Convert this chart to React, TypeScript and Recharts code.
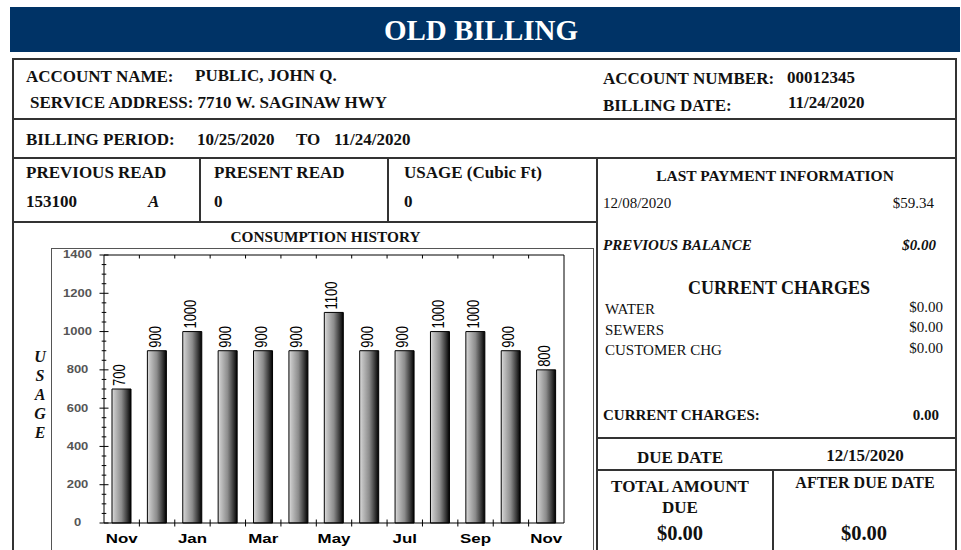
import React from 'react';
import { BarChart, Bar, XAxis, YAxis, LabelList } from 'recharts';

// consumption history, oldest first
const MONTHS = ['Nov', 'Dec', 'Jan', 'Feb', 'Mar', 'Apr', 'May', 'Jun', 'Jul', 'Aug', 'Sep', 'Oct', 'Nov'];
const USAGE = [700, 900, 1000, 900, 900, 900, 1100, 900, 900, 1000, 1000, 900, 800];
const USAGE_TICKS = [
  0, 50, 100, 150, 200, 250, 300, 350, 400, 450, 500, 550, 600, 650, 700,
  750, 800, 850, 900, 950, 1000, 1050, 1100, 1150, 1200, 1250, 1300, 1350, 1400,
];

const data = MONTHS.map((month, i) => ({ month, usage: USAGE[i] }));

const SERIF = '"Liberation Serif", "Times New Roman", serif';
const SANS = '"Liberation Sans", Arial, sans-serif';
const LINE = '#333';

const CHART_W = 541;
const CHART_H = 302;
const LEFT_W = 52;
const RIGHT_W = 29;
const PLOT_W = CHART_W - LEFT_W - RIGHT_W;
const BAND = PLOT_W / MONTHS.length;

const HEAD = 17;

type TProps = {
  x: number;
  y: number;
  size: number;
  bold?: boolean;
  italic?: boolean;
  align?: 'left' | 'center' | 'right';
  color?: string;
  children: React.ReactNode;
};

// y is the middle of the capitals
const T = ({ x, y, size, bold = true, italic = false, align = 'left', color = '#111', children }: TProps) => {
  const w = 400;
  const left = align === 'left' ? x : align === 'center' ? x - w / 2 : x - w;
  return (
    <div
      style={{
        position: 'absolute',
        left,
        top: y - size / 2,
        width: w,
        textAlign: align,
        fontSize: size,
        lineHeight: `${size}px`,
        fontWeight: bold ? 700 : 400,
        fontStyle: italic ? 'italic' : 'normal',
        color,
        whiteSpace: 'nowrap',
        fontFamily: SERIF,
      }}
    >
      {children}
    </div>
  );
};

const HLine = ({ y, x1, x2 }: { y: number; x1: number; x2: number }) => (
  <div style={{ position: 'absolute', left: x1 - 1, top: y - 1, width: x2 - x1 + 2, height: 2, background: LINE }} />
);

const VLine = ({ x, y1, y2 }: { x: number; y1: number; y2: number }) => (
  <div style={{ position: 'absolute', left: x - 1, top: y1 - 1, width: 2, height: y2 - y1 + 2, background: LINE }} />
);

const LeftTick = (props: any) => {
  const { x, y, payload } = props;
  const major = payload.value % 200 === 0;
  const half = major ? 4.5 : 2.3;
  return (
    <g>
      <line x1={x - half} x2={x + half} y1={y} y2={y} stroke="#000" />
      {major && (
        <text
          transform={`translate(${x - 26.5},${y}) scale(1.3,1)`}
          textAnchor="middle"
          dominantBaseline="central"
          fontSize={10}
          fontWeight={700}
          fill="#555"
          fontFamily={SANS}
        >
          {payload.value}
        </text>
      )}
    </g>
  );
};

const RightTick = (props: any) => {
  const { x, y } = props;
  return <line x1={x - 4} x2={x} y1={y} y2={y} stroke="#000" />;
};

const BottomTick = (props: any) => {
  const { x, y, payload, index } = props;
  return (
    <g>
      {index < MONTHS.length - 1 && (
        <line x1={x + BAND / 2} x2={x + BAND / 2} y1={y - 3.5} y2={y + 3.5} stroke="#000" />
      )}
      {index % 2 === 0 && (
        <text
          transform={`translate(${x},${y + 15}) scale(1.3,1)`}
          textAnchor="middle"
          dominantBaseline="central"
          fontSize={13}
          fontWeight={700}
          fill="#000"
          fontFamily={SANS}
        >
          {payload.value}
        </text>
      )}
    </g>
  );
};

const TopTick = (props: any) => {
  const { x, y, index } = props;
  if (index >= MONTHS.length - 1) return <g />;
  return <line x1={x + BAND / 2} x2={x + BAND / 2} y1={y} y2={y + 3.5} stroke="#000" />;
};

const BarValue = (props: any) => {
  const { x, y, width, value } = props;
  const cx = Number(x) + Number(width) / 2 - 2.5;
  return (
    <text
      transform={`translate(${cx},${Number(y) - 3}) scale(1.3,1) rotate(-90)`}
      textAnchor="start"
      dominantBaseline="central"
      fontSize={13}
      fill="#000"
      fontFamily={SANS}
    >
      {value}
    </text>
  );
};

const UsageChart = () => (
  <BarChart width={CHART_W} height={CHART_H} data={data} margin={{ top: 0, right: 0, bottom: 0, left: 0 }}>
    <defs>
      <linearGradient id="barShade" x1="0" y1="0" x2="1" y2="0">
        <stop offset="0%" stopColor="#e2e2e2" />
        <stop offset="12%" stopColor="#c4c4c4" />
        <stop offset="50%" stopColor="#8c8c8c" />
        <stop offset="80%" stopColor="#3a3a3a" />
        <stop offset="100%" stopColor="#000" />
      </linearGradient>
    </defs>
    <XAxis
      xAxisId="b"
      dataKey="month"
      height={27}
      interval={0}
      tickSize={0}
      tickMargin={0}
      tickLine={false}
      axisLine={{ stroke: '#000' }}
      tick={BottomTick}
    />
    <XAxis
      xAxisId="t"
      dataKey="month"
      orientation="top"
      height={7}
      interval={0}
      tickSize={0}
      tickMargin={0}
      tickLine={false}
      axisLine={{ stroke: '#000' }}
      tick={TopTick}
    />
    <YAxis
      yAxisId="l"
      width={LEFT_W}
      domain={[0, 1400]}
      ticks={USAGE_TICKS}
      interval={0}
      tickSize={0}
      tickMargin={0}
      tickLine={false}
      axisLine={{ stroke: '#000' }}
      tick={LeftTick}
    />
    <YAxis
      yAxisId="r"
      orientation="right"
      width={RIGHT_W}
      domain={[0, 1400]}
      ticks={USAGE_TICKS}
      interval={0}
      tickSize={0}
      tickMargin={0}
      tickLine={false}
      axisLine={{ stroke: '#000' }}
      tick={RightTick}
    />
    <Bar
      dataKey="usage"
      xAxisId="b"
      yAxisId="l"
      barSize={19}
      fill="url(#barShade)"
      stroke="#000"
      strokeWidth={1}
      isAnimationActive={false}
    >
      <LabelList dataKey="usage" content={BarValue} />
    </Bar>
  </BarChart>
);

export default function App() {
  return (
    <div
      style={{
        position: 'absolute',
        left: 0,
        top: 0,
        width: 961,
        height: 550,
        overflow: 'hidden',
        background: '#fff',
        fontFamily: SERIF,
      }}
    >
      {/* banner */}
      <div style={{ position: 'absolute', left: 10, top: 7, width: 950, height: 45, background: '#003366' }} />
      <T x={481} y={30} size={29} align="center" color="#fff">OLD BILLING</T>

      {/* frame */}
      <HLine y={59} x1={13} x2={956} />
      <VLine x={13} y1={59} y2={560} />
      <VLine x={956} y1={59} y2={560} />
      <HLine y={119} x1={13} x2={956} />
      <HLine y={158} x1={13} x2={956} />
      <VLine x={200} y1={158} y2={222} />
      <VLine x={388} y1={158} y2={222} />
      <HLine y={222} x1={13} x2={597} />
      <VLine x={597} y1={158} y2={560} />
      <HLine y={438} x1={597} x2={956} />
      <HLine y={470} x1={597} x2={956} />
      <VLine x={773} y1={470} y2={560} />

      {/* account */}
      <T x={26} y={76} size={HEAD}>ACCOUNT NAME:</T>
      <T x={195} y={75} size={HEAD}>PUBLIC, JOHN Q.</T>
      <T x={30} y={102} size={HEAD}>SERVICE ADDRESS: 7710 W. SAGINAW HWY</T>
      <T x={603} y={78} size={HEAD}>ACCOUNT NUMBER:</T>
      <T x={787} y={77} size={HEAD}>00012345</T>
      <T x={603} y={105} size={HEAD}>BILLING DATE:</T>
      <T x={788} y={102} size={HEAD}>11/24/2020</T>

      <T x={26} y={139} size={HEAD}>BILLING PERIOD:</T>
      <T x={197} y={139} size={HEAD}>10/25/2020</T>
      <T x={296} y={139} size={HEAD}>TO</T>
      <T x={334} y={139} size={HEAD}>11/24/2020</T>

      <T x={26} y={172} size={HEAD}>PREVIOUS READ</T>
      <T x={214} y={172} size={HEAD}>PRESENT READ</T>
      <T x={404} y={172} size={HEAD}>USAGE (Cubic Ft)</T>
      <T x={26} y={201} size={HEAD}>153100</T>
      <T x={148} y={201} size={HEAD} italic>A</T>
      <T x={214} y={201} size={HEAD}>0</T>
      <T x={404} y={201} size={HEAD}>0</T>

      {/* consumption history */}
      <T x={325.5} y={237} size={15.3} align="center">CONSUMPTION HISTORY</T>
      <div style={{ position: 'absolute', left: 51, top: 248, width: 541, height: 320, border: '1px solid #555' }} />
      {'USAGE'.split('').map((ch, i) => (
        <T key={i} x={40} y={357 + i * 19} size={16} align="center" italic>
          {ch}
        </T>
      ))}
      <div style={{ position: 'absolute', left: 52, top: 248 }}>
        <UsageChart />
      </div>

      {/* payments & charges */}
      <T x={775} y={176} size={15.5} align="center">LAST PAYMENT INFORMATION</T>
      <T x={603} y={203} size={15} bold={false}>12/08/2020</T>
      <T x={934} y={203} size={15} bold={false} align="right">$59.34</T>
      <T x={603} y={245} size={15} italic>PREVIOUS BALANCE</T>
      <T x={936} y={245} size={15} italic align="right">$0.00</T>
      <T x={779} y={288} size={18} align="center">CURRENT CHARGES</T>
      <T x={605} y={309} size={15} bold={false}>WATER</T>
      <T x={605} y={330} size={15} bold={false}>SEWERS</T>
      <T x={605} y={350} size={15} bold={false}>CUSTOMER CHG</T>
      <T x={943} y={307} size={15} bold={false} align="right">$0.00</T>
      <T x={943} y={327} size={15} bold={false} align="right">$0.00</T>
      <T x={943} y={348} size={15} bold={false} align="right">$0.00</T>
      <T x={603} y={415} size={15}>CURRENT CHARGES:</T>
      <T x={939} y={415} size={15} align="right">0.00</T>

      <T x={680} y={457} size={17} align="center">DUE DATE</T>
      <T x={865} y={455} size={17} align="center">12/15/2020</T>
      <T x={680} y={486} size={17} align="center">TOTAL AMOUNT</T>
      <T x={680} y={507} size={17} align="center">DUE</T>
      <T x={680} y={533} size={20.5} align="center">$0.00</T>
      <T x={865} y={483} size={16} align="center">AFTER DUE DATE</T>
      <T x={864} y={533} size={20.5} align="center">$0.00</T>
    </div>
  );
}
